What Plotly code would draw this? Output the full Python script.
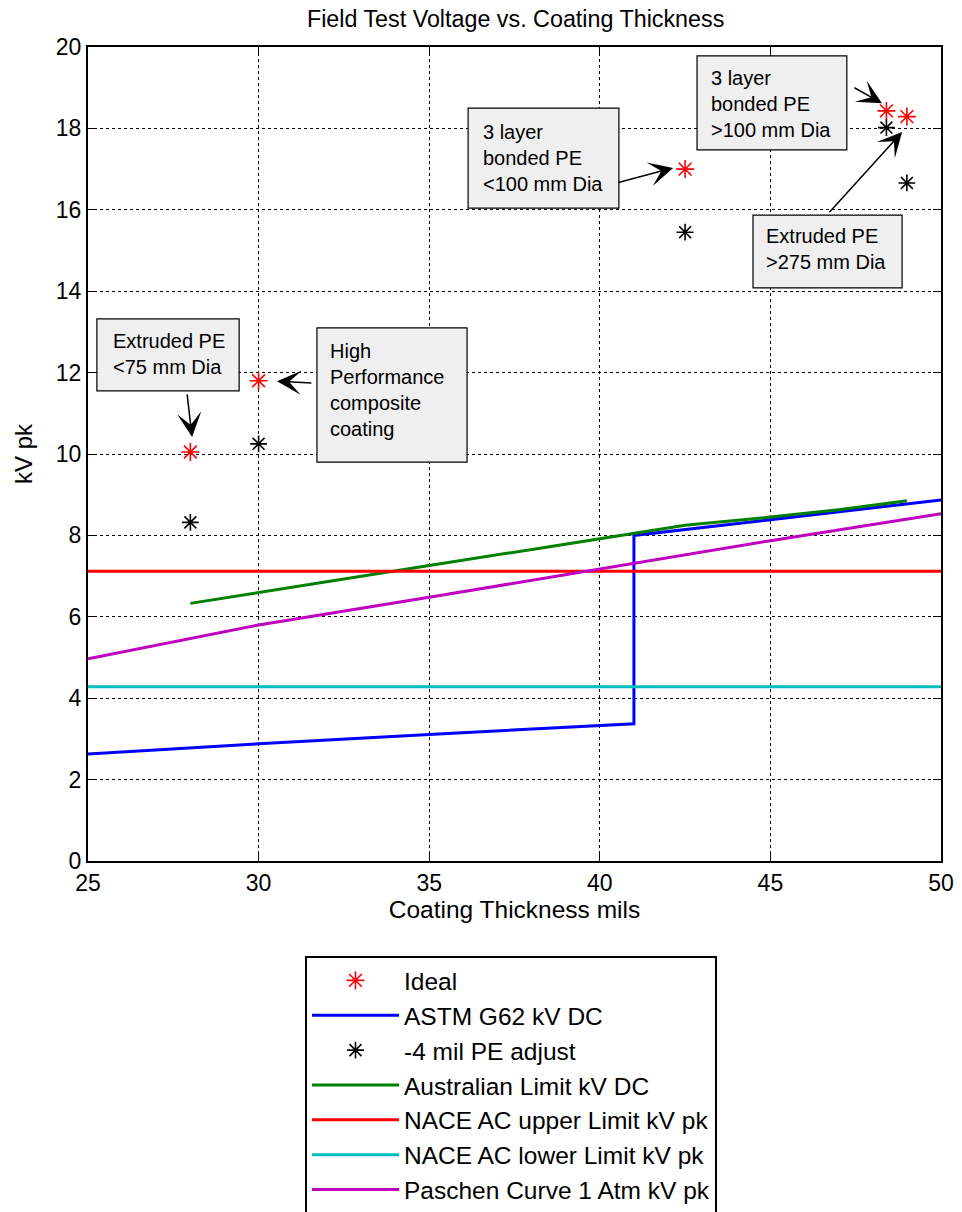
import plotly.graph_objects as go

# ---- data ----
ideal_x = [28, 30, 42.5, 48.4, 49]
ideal_y = [10.05, 11.8, 17.0, 18.43, 18.29]
adj_x = [28, 30, 42.5, 48.4, 49]
adj_y = [8.32, 10.25, 15.45, 18.02, 16.66]
astm_x = [25, 30, 35, 40, 41, 41, 45, 50]
astm_y = [2.63, 2.88, 3.11, 3.32, 3.37, 8.0, 8.39, 8.87]
aus_x = [28, 30, 35, 38.8, 41, 42.5, 45, 47, 49]
aus_y = [6.33, 6.6, 7.26, 7.76, 8.06, 8.25, 8.45, 8.63, 8.85]
nace_x = [25, 50]
nace_hi_y = [7.12, 7.12]
nace_lo_y = [4.28, 4.28]
pas_x = [25, 30, 35, 40, 45, 50]
pas_y = [4.97, 5.8, 6.48, 7.17, 7.87, 8.53]

x_ticks = [25, 30, 35, 40, 45, 50]
y_ticks = [0, 2, 4, 6, 8, 10, 12, 14, 16, 18, 20]

FONT = "Liberation Sans, Arial, sans-serif"

fig = go.Figure()
fig.add_trace(go.Scatter(x=ideal_x, y=ideal_y, mode="markers", name="Ideal",
                         marker=dict(symbol="asterisk-open", size=15, color="#ff0000",
                                     line=dict(color="#ff0000", width=1.6))))
fig.add_trace(go.Scatter(x=astm_x, y=astm_y, mode="lines", name="ASTM G62 kV DC",
                         line=dict(color="#0000ff", width=3)))
fig.add_trace(go.Scatter(x=adj_x, y=adj_y, mode="markers", name="-4 mil PE adjust",
                         marker=dict(symbol="asterisk-open", size=14, color="#000000",
                                     line=dict(color="#000000", width=1.6))))
fig.add_trace(go.Scatter(x=aus_x, y=aus_y, mode="lines", name="Australian Limit kV DC",
                         line=dict(color="#008000", width=3)))
fig.add_trace(go.Scatter(x=nace_x, y=nace_hi_y, mode="lines", name="NACE AC upper Limit kV pk",
                         line=dict(color="#ff0000", width=3)))
fig.add_trace(go.Scatter(x=nace_x, y=nace_lo_y, mode="lines", name="NACE AC lower Limit kV pk",
                         line=dict(color="#00bfbf", width=3)))
fig.add_trace(go.Scatter(x=pas_x, y=pas_y, mode="lines", name="Paschen Curve 1 Atm kV pk",
                         line=dict(color="#bf00bf", width=3)))

# ---- callout boxes ----
boxes = [
    # x0, x1, y0, y1, text_x, text_y, text
    (25.26, 29.43, 11.55, 13.32, 25.66, 13.10, "Extruded PE<br><75 mm Dia"),
    (31.71, 36.11, 9.80, 13.10, 32.04, 12.85, "High<br>Performance<br>composite<br>coating"),
    (36.14, 40.56, 16.04, 18.50, 36.52, 18.22, "3 layer<br>bonded PE<br><100 mm Dia"),
    (42.85, 47.24, 17.47, 19.78, 43.20, 19.55, "3 layer<br>bonded PE<br>>100 mm Dia"),
    (44.49, 48.86, 14.08, 15.87, 44.82, 15.68, "Extruded PE<br>>275 mm Dia"),
]
# arrows: tail (ax, ay) -> head (x, y)
arrows = [
    (27.90, 11.50, 28.05, 10.42),
    (31.59, 11.74, 30.54, 11.79),
    (40.50, 16.66, 42.15, 17.03),
    (47.42, 19.02, 48.27, 18.62),
    (46.69, 15.90, 48.86, 17.91),
]

shapes = []
annotations = []
for x0, x1, y0, y1, tx, ty, txt in boxes:
    shapes.append(dict(type="rect", xref="x", yref="y", x0=x0, x1=x1, y0=y0, y1=y1,
                       fillcolor="#efefef", line=dict(color="#000000", width=1.2),
                       layer="above"))
    annotations.append(dict(x=tx, y=ty, xref="x", yref="y", text=txt, showarrow=False,
                            xanchor="left", yanchor="top", align="left",
                            font=dict(family=FONT, size=20, color="#000000")))
for ax_, ay_, hx, hy in arrows:
    annotations.append(dict(x=hx, y=hy, ax=ax_, ay=ay_, xref="x", yref="y",
                            axref="x", ayref="y", text="", showarrow=True,
                            arrowhead=3, arrowsize=2.7, arrowwidth=1.5,
                            arrowcolor="#000000", standoff=0))

fig.update_layout(
    width=962, height=1212,
    margin=dict(l=88, r=21, t=47, b=351, autoexpand=False),
    paper_bgcolor="white", plot_bgcolor="white",
    font=dict(family=FONT, size=23, color="#000000"),
    title=dict(text="Field Test Voltage vs. Coating Thickness", x=0.536, xanchor="center",
               y=1 - 19 / 1212, yanchor="middle", yref="container",
               font=dict(family=FONT, size=23.3, color="#000000")),
    xaxis=dict(range=[25, 50], tickvals=x_ticks, ticks="inside", ticklen=8, tickwidth=1,
               tickcolor="#000000", showline=True, linecolor="#000000", linewidth=2,
               mirror="ticks", showgrid=True, gridcolor="#000000", griddash="dot",
               gridwidth=1, zeroline=False,
               tickfont=dict(family=FONT, size=23),
               title=dict(text="Coating Thickness mils", standoff=4,
                          font=dict(family=FONT, size=24.5))),
    yaxis=dict(range=[0, 20], tickvals=y_ticks, ticks="inside", ticklen=8, tickwidth=1,
               tickcolor="#000000", showline=True, linecolor="#000000", linewidth=2,
               mirror="ticks", showgrid=True, gridcolor="#000000", griddash="dot",
               gridwidth=1, zeroline=False,
               tickfont=dict(family=FONT, size=23),
               title=dict(text="kV pk", standoff=16, font=dict(family=FONT, size=24))),
    legend=dict(x=(305 - 88) / 853, y=(861 - 956) / 814, xanchor="left", yanchor="top",
                bgcolor="white", bordercolor="#000000", borderwidth=2,
                font=dict(family=FONT, size=24.5, color="#000000"), itemwidth=87,
                tracegroupgap=0),
    shapes=shapes,
    annotations=annotations,
    showlegend=True,
)

fig.write_html("out.html")
